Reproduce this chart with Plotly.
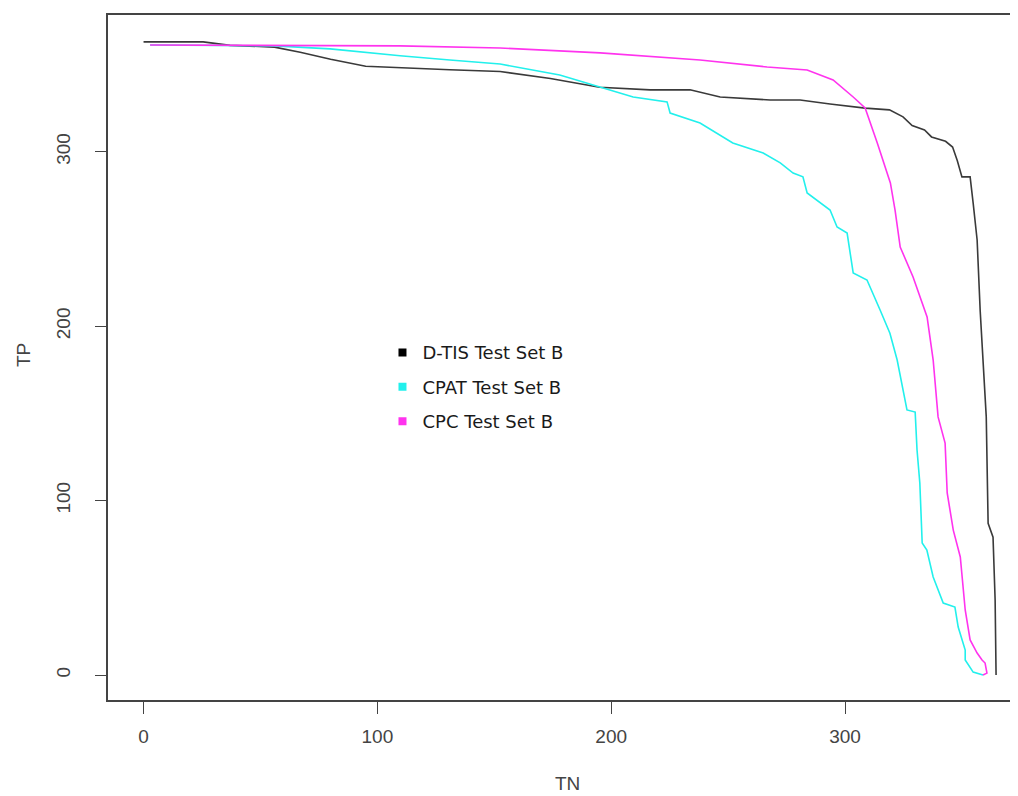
import plotly.graph_objects as go

# D-TIS Test Set B
dtis_tn = [0, 25.5, 37, 56, 67, 80, 95, 110, 131, 152.5, 174, 195, 216.7, 233.7, 246.6, 268, 280.8,
           293.6, 308.6, 319, 324.8, 328.7, 334, 337, 343, 346, 348, 350, 353.5, 354.8, 356.5, 357.8,
           359, 360.4, 361.2, 363.3, 364.2, 364.6]
dtis_tp = [363, 363, 361, 360, 357, 353, 349, 348, 347, 346, 342, 337, 335.5, 335.5, 331.4, 329.7, 329.7,
           327.4, 325, 324, 320, 315, 312.5, 308.5, 306, 302.7, 295, 285.6, 285.6, 270.6, 249.4, 209,
           180.6, 148, 87, 79, 43, 0]

# CPAT Test Set B
cpat_tn = [2.8, 56.2, 79.8, 109.7, 131, 152.5, 178, 195.3, 209.4, 223.9, 225.2, 238, 252, 265, 272.3,
           277.8, 282, 283.8, 289.3, 293.6, 296.6, 300.9, 303.5, 309.4, 315, 319.2, 322.3, 326.5, 330,
           330.8, 332, 333, 335, 337.7, 342, 347, 348.4, 351.4, 351.4, 354.8, 359]
cpat_tp = [361.2, 360.7, 359, 355, 352.6, 350.3, 344, 337.2, 331.4, 328.6, 322.2, 316.5, 305, 299.3, 293.6,
           287.8, 285.6, 276.4, 270.6, 266.6, 256.9, 253.4, 230.5, 226.5, 209.3, 196, 180.6, 152, 150.8,
           129, 110, 75.7, 71.7, 56.2, 41.3, 39, 27.5, 14.3, 8.6, 1.7, 0]

# CPC Test Set B
cpc_tn = [2.8, 109.7, 152.5, 195.3, 238, 266.7, 283.8, 294.9, 303.5, 308.6, 313.8, 319.4, 321.4, 323.6,
          329.1, 335.1, 337.7, 339.8, 342.8, 343.7, 346.3, 349.3, 351.4, 353.5, 356.5, 358.6, 359.9,
          360.7, 359]
cpc_tp = [361.2, 360.7, 359.5, 356.7, 352.6, 348.6, 346.9, 341.2, 331.4, 325.1, 305, 282.1, 266.6, 245.4,
          228.2, 205.3, 180.6, 148, 133, 104.4, 83.1, 67.7, 37.3, 20.1, 12.6, 8.6, 6.9, 1.1, 0]

series_names = ["D-TIS Test Set B", "CPAT Test Set B", "CPC Test Set B"]
series_colors = ["#3a3a3a", "#22f0ec", "#ff33ee"]
x_ticks = [0, 100, 200, 300]
y_ticks = [0, 100, 200, 300]

fig = go.Figure()
for xs, ys, name, col in zip([dtis_tn, cpat_tn, cpc_tn], [dtis_tp, cpat_tp, cpc_tp],
                             series_names, series_colors):
    fig.add_trace(go.Scatter(x=xs, y=ys, mode="lines", line=dict(color=col, width=1.6),
                             showlegend=False, hoverinfo="skip"))
# legend entries (square markers)
for i, (name, col) in enumerate(zip(series_names, series_colors)):
    fig.add_trace(go.Scatter(x=[None], y=[None], mode="markers", name=name,
                             marker=dict(symbol="square", size=8,
                                         color="#000000" if i == 0 else col),
                             legendgroup=name, showlegend=True))

fig.update_layout(
    width=1018, height=796,
    margin=dict(l=100, r=0, t=7, b=104),
    paper_bgcolor="white", plot_bgcolor="white",
    font=dict(family="Liberation Sans, Arial, sans-serif", color="#444444"),
    showlegend=True,
    legend=dict(x=0.299, y=0.534, xanchor="left", yanchor="top",
                bgcolor="rgba(0,0,0,0)", tracegroupgap=8,
                font=dict(family="DejaVu Sans, sans-serif", size=18, color="#1a1a1a"),
                itemwidth=30),
    xaxis=dict(range=[-15.2, 377.4], tickvals=x_ticks, ticks="outside", ticklen=12,
               tickcolor="#444444", showgrid=False, zeroline=False, showline=True,
               linecolor="#444444", linewidth=1.5, mirror=True,
               tickfont=dict(size=19, color="#444444"), ticklabelstandoff=6),
    yaxis=dict(range=[-14.3, 378.4], tickvals=y_ticks, ticks="outside", ticklen=11,
               tickcolor="#444444", showgrid=False, zeroline=False, showline=True,
               linecolor="#444444", linewidth=1.5, tickangle=-90,
               tickfont=dict(size=19, color="#444444"), ticklabelstandoff=18),
    annotations=[
        dict(text="TN", xref="paper", yref="paper", x=0.5, y=-0.1226,
             xanchor="center", yanchor="middle", showarrow=False,
             font=dict(size=19, color="#444444")),
        dict(text="TP", xref="paper", yref="paper", x=-0.0926, y=0.5036,
             xanchor="center", yanchor="middle", showarrow=False, textangle=-90,
             font=dict(size=19, color="#444444")),
    ],
)

fig.write_html("out.html")
